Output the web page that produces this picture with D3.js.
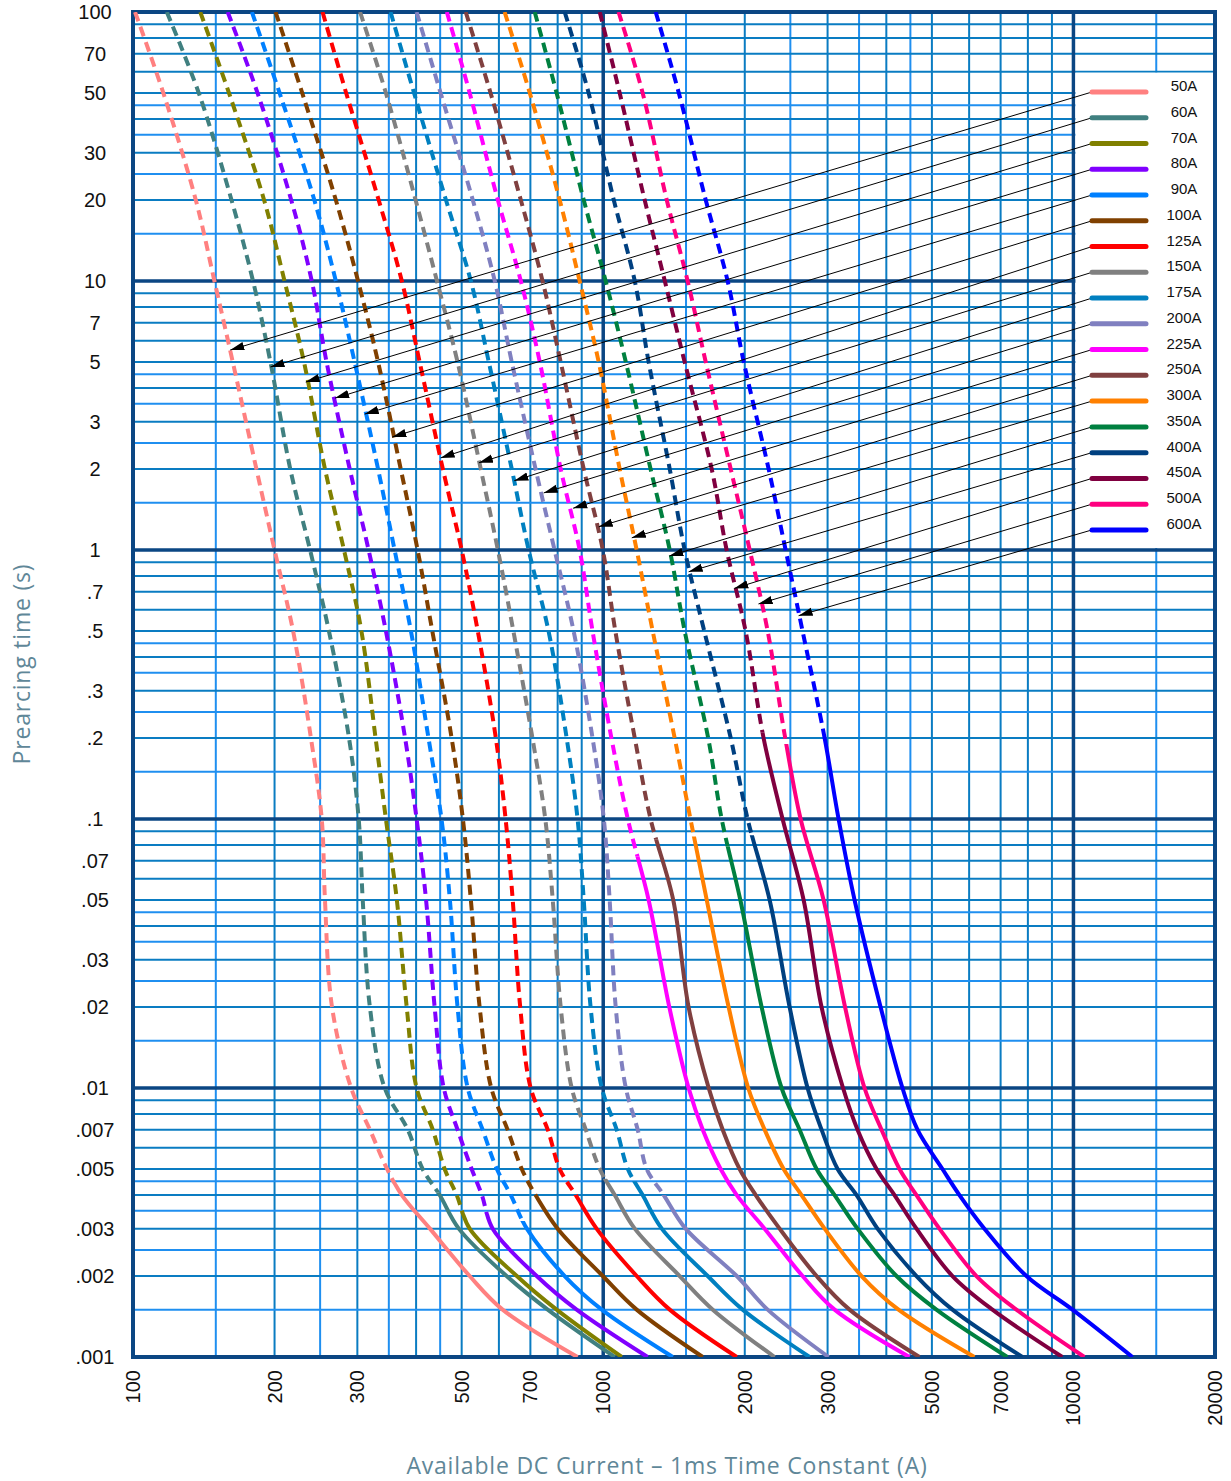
<!DOCTYPE html>
<html>
<head>
<meta charset="utf-8">
<title>Prearcing time vs available DC current</title>
<script src="https://cdn.jsdelivr.net/npm/d3@7"></script>
<style>
  body { margin: 0; background: #fff; }
  svg { display: block; }
</style>
</head>
<body>
<div id="chart"></div>
<script>
// DATA ___________________________________________________________
const SERIES_NAMES = ['50A', '60A', '70A', '80A', '90A', '100A', '125A', '150A', '175A',
                      '200A', '225A', '250A', '300A', '350A', '400A', '450A', '500A', '600A'];
const SERIES_COLORS = ['#ff8080', '#408080', '#808000', '#8000ff', '#0080ff', '#804000',
                       '#ff0000', '#808080', '#0080c0', '#8080c0', '#ff00ff', '#804040',
                       '#ff8000', '#008040', '#004080', '#800040', '#ff0080', '#0000ff'];

// prearcing time levels (s) where each curve was read
const TIME_LEVELS = [100, 50, 20, 10, 5, 2, 1, 0.5, 0.2, 0.1, 0.05, 0.02, 0.01,
                     0.007, 0.005, 0.004, 0.003, 0.002, 0.0015, 0.001];

// available current (A) at each time level
const CURRENTS_50A  = [101, 116, 136, 149, 163, 183, 200, 219, 239, 252, 256, 265, 291, 319, 347, 373, 428, 520, 611, 882];
const CURRENTS_60A  = [118, 138, 162, 180, 196, 216, 238, 261, 288, 302, 308, 319, 343, 384, 413, 449, 493, 623, 762, 1058];
const CURRENTS_70A  = [139, 160, 190, 210, 231, 256, 281, 306, 328, 345, 364, 382, 401, 434, 460, 488, 520, 655, 796, 1095];
const CURRENTS_80A  = [159, 184, 217, 240, 258, 289, 317, 345, 379, 401, 420, 438, 458, 490, 525, 552, 582, 722, 878, 1243];
const CURRENTS_90A  = [179, 205, 243, 270, 296, 332, 360, 390, 425, 453, 472, 490, 515, 554, 594, 636, 688, 828, 993, 1406];
const CURRENTS_100A = [201, 229, 270, 301, 332, 371, 403, 433, 476, 503, 523, 546, 578, 626, 671, 718, 800, 998, 1178, 1628];
const CURRENTS_125A = [253, 284, 333, 373, 407, 456, 500, 541, 591, 620, 642, 666, 701, 762, 808, 874, 968, 1178, 1385, 1923];
const CURRENTS_150A = [304, 345, 399, 443, 490, 549, 597, 644, 707, 753, 781, 812, 857, 918, 983, 1058, 1167, 1454, 1710, 2315];
const CURRENTS_175A = [353, 396, 463, 523, 571, 639, 694, 765, 836, 882, 909, 940, 993, 1068, 1128, 1213, 1332, 1668, 1979, 2747];
const CURRENTS_200A = [401, 451, 528, 588, 639, 718, 788, 865, 949, 1003, 1032, 1063, 1117, 1184, 1237, 1345, 1497, 1923, 2237, 3015];
const CURRENTS_225A = [465, 520, 597, 668, 733, 812, 891, 949, 1041, 1128, 1249, 1382, 1519, 1628, 1777, 1923, 2204, 2654, 3105, 4480];
const CURRENTS_250A = [510, 576, 668, 743, 812, 909, 998, 1061, 1167, 1261, 1409, 1519, 1676, 1795, 1950, 2110, 2372, 2843, 3341, 4704];
const CURRENTS_300A = [617, 698, 808, 891, 978, 1084, 1178, 1274, 1419, 1533, 1660, 1848, 2034, 2204, 2419, 2641, 2957, 3543, 4246, 6158];
const CURRENTS_350A = [715, 796, 909, 1012, 1117, 1261, 1385, 1490, 1672, 1786, 1957, 2172, 2395, 2616, 2843, 3105, 3474, 4204, 5112, 7235];
const CURRENTS_400A = [828, 931, 1053, 1167, 1249, 1385, 1490, 1640, 1867, 2028, 2259, 2491, 2720, 2913, 3151, 3458, 3831, 4636, 5530, 7788];
const CURRENTS_450A = [983, 1084, 1225, 1352, 1490, 1701, 1830, 2008, 2193, 2407, 2668, 2913, 3236, 3474, 3813, 4163, 4636, 5530, 6725, 9471];
const CURRENTS_500A = [1078, 1213, 1365, 1512, 1652, 1867, 2049, 2237, 2438, 2629, 2942, 3268, 3595, 3907, 4266, 4636, 5188, 6218, 7562, 10550];
const CURRENTS_600A = [1293, 1448, 1652, 1839, 1990, 2248, 2443, 2654, 2957, 3166, 3424, 3889, 4329, 4659, 5265, 5722, 6466, 7943, 9952, 13350];

const SERIES_CURRENTS = [CURRENTS_50A, CURRENTS_60A, CURRENTS_70A, CURRENTS_80A, CURRENTS_90A,
                         CURRENTS_100A, CURRENTS_125A, CURRENTS_150A, CURRENTS_175A, CURRENTS_200A,
                         CURRENTS_225A, CURRENTS_250A, CURRENTS_300A, CURRENTS_350A, CURRENTS_400A,
                         CURRENTS_450A, CURRENTS_500A, CURRENTS_600A];

// time (s) below which each curve turns from dashed to solid
const BREAK_TIMES = [0.0044, 0.0041, 0.0034, 0.0034, 0.0032, 0.0038, 0.0040, 0.0046, 0.0045,
                     0.0040, 0.0725, 0.084, 0.086, 0.079, 0.087, 0.21, 0.19, 0.20];

// where each legend leader arrow points (current A, time s)
const ARROW_CURRENTS = [161, 196, 233, 269, 311, 356, 451, 544, 647, 747, 863, 978, 1150, 1382, 1519, 1899, 2139, 2603];
const ARROW_TIMES = [5.54, 4.79, 4.21, 3.67, 3.20, 2.63, 2.20, 2.11, 1.81, 1.63, 1.43, 1.22, 1.11, 0.95, 0.83, 0.72, 0.63, 0.57];

// axes
const X_TICKS = [100, 200, 300, 500, 700, 1000, 2000, 3000, 5000, 7000, 10000, 20000];
const Y_TICKS = [100, 70, 50, 30, 20, 10, 7, 5, 3, 2, 1, 0.7, 0.5, 0.3, 0.2, 0.1,
                 0.07, 0.05, 0.03, 0.02, 0.01, 0.007, 0.005, 0.003, 0.002, 0.001];
const Y_TICK_LABELS = ['100', '70', '50', '30', '20', '10', '7', '5', '3', '2', '1', '.7', '.5', '.3', '.2', '.1',
                       '.07', '.05', '.03', '.02', '.01', '.007', '.005', '.003', '.002', '.001'];
const GRID_STEPS = [1, 1.5, 2, 2.5, 3, 3.5, 4, 4.5, 5, 6, 7, 8, 9];
const X_DECADES = [100, 1000, 10000];
const Y_DECADES = [0.001, 0.01, 0.1, 1, 10];
//________________________________________________________________________________________


// LAYOUT ___________________________________________________________
const WIDTH = 1231;
const HEIGHT = 1481;
const PLOT = {left: 133, right: 1215, top: 12, bottom: 1357};
const NAVY = '#0b4683';
const GRID_DARK = '#0a7cc2';
const GRID_LIGHT = '#1f8ff0';
const TITLE_COLOR = '#5f8798';
const LEGEND = {x0: 1092, x1: 1146, labelX: 1184, top: 92, step: 25.76};
//________________________________________________________________________________________


function createChart() {
    console.debug("createChart()");

    const svg = d3.select('#chart')
        .append('svg')
        .attr('width', WIDTH)
        .attr('height', HEIGHT);

    const xScale = d3.scaleLog().domain([100, 20000]).range([PLOT.left, PLOT.right]);
    const yScale = d3.scaleLog().domain([0.001, 100]).range([PLOT.bottom, PLOT.top]);

    return {svg, xScale, yScale};
}


function drawGrid(chart) {
    console.debug("drawGrid()");
    const {svg, xScale, yScale} = chart;

    const xGrid = [];
    X_DECADES.forEach(function(d) {
        GRID_STEPS.forEach(function(s) { if (d * s <= 20000) xGrid.push({v: d * s, s: s}); });
    });
    const yGrid = [];
    Y_DECADES.forEach(function(d) {
        GRID_STEPS.forEach(function(s) { yGrid.push({v: d * s, s: s}); });
    });

    const minorColor = function(d) { return d.s % 1 !== 0 ? GRID_LIGHT : GRID_DARK; };

    // minor grid lines
    svg.append('g').selectAll('line')
        .data(xGrid.filter(function(d) { return d.s !== 1; }))
        .enter().append('line')
        .attr('x1', function(d) { return xScale(d.v); })
        .attr('x2', function(d) { return xScale(d.v); })
        .attr('y1', PLOT.top).attr('y2', PLOT.bottom)
        .attr('stroke', minorColor).attr('stroke-width', 2);

    svg.append('g').selectAll('line')
        .data(yGrid.filter(function(d) { return d.s !== 1; }))
        .enter().append('line')
        .attr('y1', function(d) { return yScale(d.v); })
        .attr('y2', function(d) { return yScale(d.v); })
        .attr('x1', PLOT.left).attr('x2', PLOT.right)
        .attr('stroke', minorColor).attr('stroke-width', 2);

    // decade lines
    svg.append('g').selectAll('line')
        .data([1000, 10000])
        .enter().append('line')
        .attr('x1', function(d) { return xScale(d); })
        .attr('x2', function(d) { return xScale(d); })
        .attr('y1', PLOT.top).attr('y2', PLOT.bottom)
        .attr('stroke', NAVY).attr('stroke-width', 3.5);

    svg.append('g').selectAll('line')
        .data([10, 1, 0.1, 0.01])
        .enter().append('line')
        .attr('y1', function(d) { return yScale(d); })
        .attr('y2', function(d) { return yScale(d); })
        .attr('x1', PLOT.left).attr('x2', PLOT.right)
        .attr('stroke', NAVY).attr('stroke-width', 3.5);

    // white legend panel sits between t = 60 s and t = 1 s, right of 10 kA
    svg.append('rect')
        .attr('x', xScale(10000) + 2)
        .attr('y', yScale(60) + 1)
        .attr('width', xScale(20000) - xScale(10000) - 2)
        .attr('height', yScale(1) - yScale(60) - 3)
        .attr('fill', '#fff');

    // outer border
    svg.append('rect')
        .attr('x', PLOT.left).attr('y', PLOT.top)
        .attr('width', PLOT.right - PLOT.left)
        .attr('height', PLOT.bottom - PLOT.top)
        .attr('fill', 'none')
        .attr('stroke', NAVY).attr('stroke-width', 4);
}


function drawCurves(chart) {
    console.debug("drawCurves()");
    const {svg, xScale, yScale} = chart;
    const defs = svg.append('defs');

    const line = d3.line()
        .x(function(d) { return xScale(d[0]); })
        .y(function(d) { return yScale(d[1]); })
        .curve(d3.curveCatmullRom.alpha(0.5));

    SERIES_NAMES.forEach(function(name, i) {
        const points = SERIES_CURRENTS[i].map(function(c, j) { return [c, TIME_LEVELS[j]]; });
        const yBreak = yScale(BREAK_TIMES[i]);

        // clip the same path in two: dashed above the break, solid below
        defs.append('clipPath').attr('id', 'dash-' + i)
            .append('rect')
            .attr('x', PLOT.left).attr('y', PLOT.top)
            .attr('width', PLOT.right - PLOT.left).attr('height', yBreak - PLOT.top);
        defs.append('clipPath').attr('id', 'solid-' + i)
            .append('rect')
            .attr('x', PLOT.left).attr('y', yBreak)
            .attr('width', PLOT.right - PLOT.left).attr('height', PLOT.bottom - yBreak);

        svg.append('path')
            .attr('d', line(points))
            .attr('fill', 'none')
            .attr('stroke', SERIES_COLORS[i])
            .attr('stroke-width', 4)
            .attr('stroke-dasharray', '10,6')
            .attr('clip-path', 'url(#dash-' + i + ')');

        svg.append('path')
            .attr('d', line(points))
            .attr('fill', 'none')
            .attr('stroke', SERIES_COLORS[i])
            .attr('stroke-width', 4)
            .attr('clip-path', 'url(#solid-' + i + ')');
    });
}


function drawLegend(chart) {
    console.debug("drawLegend()");
    const {svg, xScale, yScale} = chart;

    svg.select('defs').append('marker')
        .attr('id', 'arrow')
        .attr('viewBox', '0 -5 14 10')
        .attr('refX', 14).attr('refY', 0)
        .attr('markerWidth', 14).attr('markerHeight', 10)
        .attr('markerUnits', 'userSpaceOnUse')
        .attr('orient', 'auto')
        .append('path')
        .attr('d', 'M0,-4.2L14,0L0,4.2Z')
        .attr('fill', '#000');

    const rowY = function(i) { return LEGEND.top + i * LEGEND.step; };

    // leader lines from legend to curves
    svg.append('g').selectAll('line')
        .data(SERIES_NAMES)
        .enter().append('line')
        .attr('x1', LEGEND.x0)
        .attr('y1', function(d, i) { return rowY(i); })
        .attr('x2', function(d, i) { return xScale(ARROW_CURRENTS[i]); })
        .attr('y2', function(d, i) { return yScale(ARROW_TIMES[i]); })
        .attr('stroke', '#000')
        .attr('stroke-width', 1)
        .attr('marker-end', 'url(#arrow)');

    svg.append('g').selectAll('line')
        .data(SERIES_NAMES)
        .enter().append('line')
        .attr('x1', LEGEND.x0).attr('x2', LEGEND.x1)
        .attr('y1', function(d, i) { return rowY(i); })
        .attr('y2', function(d, i) { return rowY(i); })
        .attr('stroke', function(d, i) { return SERIES_COLORS[i]; })
        .attr('stroke-width', 5)
        .attr('stroke-linecap', 'round');

    svg.append('g').selectAll('text')
        .data(SERIES_NAMES)
        .enter().append('text')
        .attr('x', LEGEND.labelX)
        .attr('y', function(d, i) { return rowY(i) - 1; })
        .attr('text-anchor', 'middle')
        .attr('font-family', '"Liberation Sans", Arial, sans-serif')
        .attr('font-size', '15px')
        .attr('fill', '#111')
        .text(function(d) { return d; });
}


function drawAxes(chart) {
    console.debug("drawAxes()");
    const {svg, xScale, yScale} = chart;
    const FONT = '"Liberation Sans", Arial, sans-serif';

    svg.append('g').selectAll('text')
        .data(Y_TICKS)
        .enter().append('text')
        .attr('x', 95)
        .attr('y', function(d) { return yScale(d); })
        .attr('text-anchor', 'middle')
        .attr('dominant-baseline', 'central')
        .attr('font-family', FONT)
        .attr('font-size', '20px')
        .attr('fill', '#111')
        .text(function(d, i) { return Y_TICK_LABELS[i]; });

    svg.append('g').selectAll('text')
        .data(X_TICKS)
        .enter().append('text')
        .attr('transform', function(d) { return `translate(${xScale(d)},1370) rotate(-90)`; })
        .attr('text-anchor', 'end')
        .attr('dominant-baseline', 'central')
        .attr('font-family', FONT)
        .attr('font-size', '20px')
        .attr('fill', '#111')
        .text(function(d) { return d; });

    svg.append('text')
        .attr('x', 667).attr('y', 1474)
        .attr('text-anchor', 'middle')
        .attr('font-family', '"Open Sans", "Noto Sans", sans-serif')
        .attr('font-size', '23px')
        .attr('letter-spacing', '0.8px')
        .attr('fill', TITLE_COLOR)
        .text('Available DC Current \u2013 1ms Time Constant (A)');

    svg.append('text')
        .attr('transform', 'translate(30,664) rotate(-90)')
        .attr('text-anchor', 'middle')
        .attr('font-family', '"Open Sans", "Noto Sans", sans-serif')
        .attr('font-size', '23px')
        .attr('letter-spacing', '0.8px')
        .attr('fill', TITLE_COLOR)
        .text('Prearcing time (s)');
}


// MAIN ___________________________________________________________
const chart = createChart();
drawGrid(chart);
drawCurves(chart);
drawLegend(chart);
drawAxes(chart);
//________________________________________________________________________________________
</script>
</body>
</html>
